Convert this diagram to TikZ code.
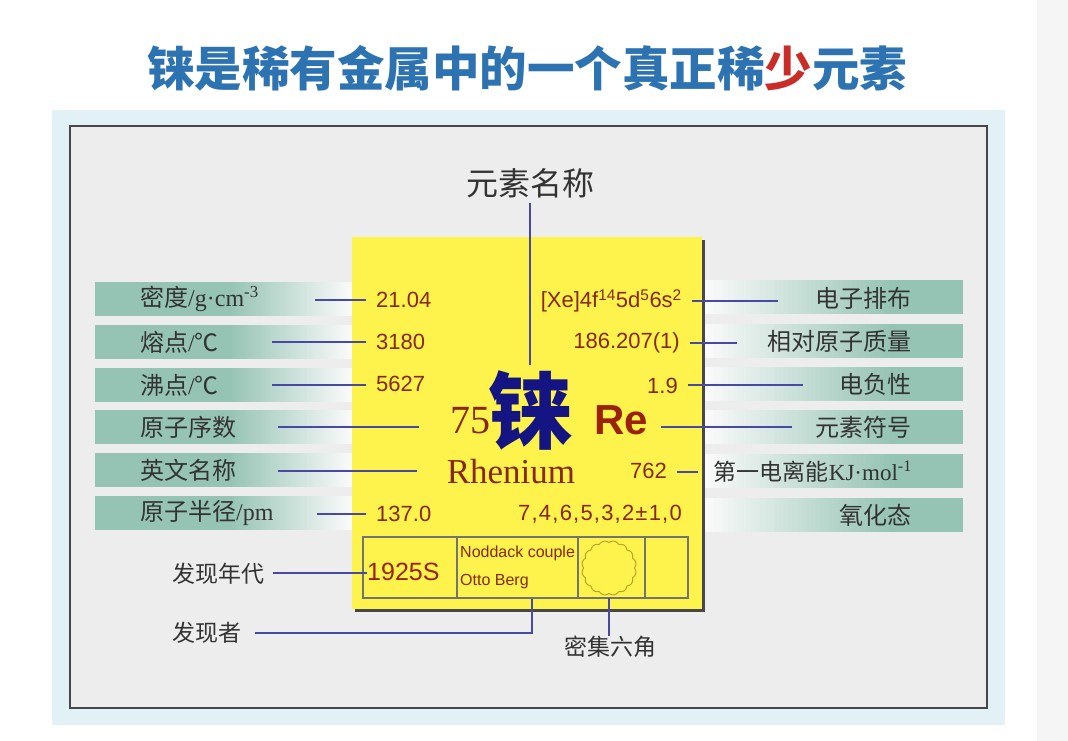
\documentclass[tikz,border=0pt]{standalone}
\usepackage{fontspec}
\usepackage{xcolor}
\usepackage{tikz}
\usetikzlibrary{positioning,calc}
\newfontfamily\cjk{Noto Sans CJK SC}
\newfontfamily\arial{Liberation Sans}
\newfontfamily\romain{Liberation Serif}
\definecolor{bleutitre}{RGB}{45,115,178}
\definecolor{rougetitre}{RGB}{200,45,40}
\definecolor{fondbleu}{RGB}{226,241,246}
\definecolor{fondgris}{RGB}{237,237,238}
\definecolor{cadre}{RGB}{70,70,75}
\definecolor{jaune}{RGB}{254,243,76}
\definecolor{vert}{RGB}{150,196,180}
\definecolor{trait}{RGB}{72,72,165}
\definecolor{brun}{RGB}{135,40,10}
\definecolor{marine}{RGB}{20,20,130}
\definecolor{ocre}{RGB}{190,160,40}
\colorlet{blanc}{fondgris!30!white}
\tikzset{
	lien/.style={draw=trait,line width=2.4pt},
	etiq/.style={font=\cjk\fontsize{24}{26}\selectfont,text=black!80,inner sep=0pt},
	valeur/.style={font=\arial\fontsize{22}{24}\selectfont,text=brun,inner xsep=10pt,inner ysep=0pt}
}

\begin{document}
\begin{tikzpicture}[x=1pt,y=-1pt]
	\useasboundingbox (0,0) rectangle (1068,741);
	
	%Fonds
	\fill[white] (0,0) rectangle (1068,741);
	\fill[black!4] (1037,0) rectangle (1068,741);
	\fill[fondbleu] (52,110) rectangle (1005,725);
	\filldraw[fill=fondgris,draw=cadre,line width=2.5pt] (70,126) rectangle (987,708);
	
	%Titre
	\node[font=\cjk\bfseries\fontsize{47.5}{50}\selectfont,text=bleutitre] (titre) at (527,68) {铼是稀有金属中的一个真正稀\textcolor{rougetitre}{少}元素};
	
	%Bandes vertes (degrade par petits rectangles)
	\foreach \y in {299,342,385,427,470,513}{
		\fill[vert] (95,\y-17) rectangle (230,\y+17);
		\foreach \i [evaluate=\i as \p using 100-\i*2.5] in {0,...,40}{
			\fill[vert!\p!blanc] (229+3*\i,\y-17) rectangle (232.5+3*\i,\y+17);
		}
	}
	\foreach \y in {297,341,384,427,471,515}{
		\foreach \i [evaluate=\i as \p using \i*2.5] in {0,...,40}{
			\fill[vert!\p!blanc] (705+4.6*\i,\y-17) rectangle (710+4.6*\i,\y+17);
		}
		\fill[vert] (889,\y-17) rectangle (963,\y+17);
	}
	
	%Carte jaune
	\fill[cadre] (355,240) rectangle (705,612);
	\fill[jaune] (352,237) rectangle (702,609);
	\draw[black!55,line width=1.3pt] (363,537) rectangle (688,598);
	\foreach \x in {457,578,645}{
		\draw[black!55,line width=1.3pt] (\x,537) -- (\x,598);
	}
	\draw[ocre,line width=1pt] plot[domain=0:360,samples=361] ({609+(25.5+1.8*abs(sin(8*\x)))*cos(\x)},{568+(25.5+1.8*abs(sin(8*\x)))*sin(\x)});
	
	%Etiquettes gauche
	\node[etiq,anchor=west] (g1) at (140,299) {密度{\romain/g·cm\textsuperscript{-3}}};
	\node[etiq,anchor=west] (g2) at (140,342) {熔点{\romain/}℃};
	\node[etiq,anchor=west] (g3) at (140,385) {沸点{\romain/}℃};
	\node[etiq,anchor=west] (g4) at (140,427) {原子序数};
	\node[etiq,anchor=west] (g5) at (140,470) {英文名称};
	\node[etiq,anchor=west] (g6) at (140,513) {原子半径{\romain/pm}};
	
	%Etiquettes droite
	\node[etiq,anchor=east] (d1) at (912,298) {电子排布};
	\node[etiq,anchor=east] (d2) at (912,341) {相对原子质量};
	\node[etiq,anchor=east] (d3) at (912,384) {电负性};
	\node[etiq,anchor=east] (d4) at (912,427) {元素符号};
	\node[etiq,font=\cjk\fontsize{23}{25}\selectfont,anchor=east] (d5) at (912,472) {第一电离能{\romain KJ·mol\textsuperscript{-1}}};
	\node[etiq,anchor=east] (d6) at (912,515) {氧化态};
	
	%Etiquettes haut et bas
	\node[etiq,font=\cjk\fontsize{32}{34}\selectfont] (nom) at (530,183) {元素名称};
	\node[etiq,font=\cjk\fontsize{23}{25}\selectfont,anchor=west] (an) at (172,574) {发现年代};
	\node[etiq,font=\cjk\fontsize{23}{25}\selectfont,anchor=west] (decouv) at (172,633) {发现者};
	\node[etiq,font=\cjk\fontsize{23}{25}\selectfont] (hexa) at (610,647) {密集六角};
	
	%Valeurs
	\node[valeur,anchor=west] (v1) at (366,300) {21.04};
	\node[valeur,anchor=west] (v2) at (366,342) {3180};
	\node[valeur,anchor=west] (v3) at (366,384) {5627};
	\node[valeur,anchor=west] (v6) at (366,514) {137.0};
	\node[valeur,anchor=east] (w1) at (692,301) {[Xe]4f\textsuperscript{14}5d\textsuperscript{5}6s\textsuperscript{2}};
	\node[valeur,anchor=east] (w2) at (690,343) {186.207(1)};
	\node[valeur,anchor=east] (w3) at (688,386) {1.9};
	\node[valeur,anchor=east] (w5) at (677,471) {762};
	\node[valeur,anchor=east] (w6) at (692,514) {\addfontfeature{LetterSpace=5.5}7,4,6,5,3,2±1,0};
	
	%Symbole
	\node[font=\romain\fontsize{40}{40}\selectfont,text=brun,anchor=east,inner sep=0pt] (numero) at (491,421) {75};
	\node[font=\cjk\bfseries\fontsize{84}{84}\selectfont,text=marine,inner sep=0pt] (symbole) at (530,410) {铼};
	\node[font=\arial\bfseries\fontsize{42}{42}\selectfont,text=brun!85!red,inner sep=0pt] (re) at (621,420) {Re};
	\node[font=\romain\fontsize{35}{35}\selectfont,text=brun,anchor=base,inner sep=0pt] (nomen) at (511,483) {Rhenium};
	
	%Decouverte
	\node[font=\arial\fontsize{25}{25}\selectfont,text=brun!85!red,anchor=west,inner sep=0pt] (annee) at (367,572) {1925S};
	\node[font=\arial\fontsize{16}{16}\selectfont,text=brun,anchor=west,inner sep=0pt] (noddack) at (460,553) {Noddack couple};
	\node[font=\arial\fontsize{16}{16}\selectfont,text=brun,anchor=west,inner sep=0pt] (berg) at (460,582) {Otto Berg};
	
	%Points des traits
	\coordinate (a1) at (315,300);
	\coordinate (a2) at (272,342);
	\coordinate (a3) at (272,385);
	\coordinate (a4) at (278,427);
	\coordinate (a5) at (278,471);
	\coordinate (a6) at (317,514);
	\coordinate (a7) at (273,573);
	\coordinate (b1) at (778,301);
	\coordinate (b2) at (737,343);
	\coordinate (b3) at (803,385);
	\coordinate (b4) at (792,427);
	\coordinate (b5) at (698,472);
	\coordinate (coinberg) at (532,599);
	\coordinate (circbas) at (609,598);
	
	%Traits
	\draw[lien] (a1) -- (a1 -| v1.west);
	\draw[lien] (a2) -- (a2 -| v2.west);
	\draw[lien] (a3) -- (a3 -| v3.west);
	\draw[lien,shorten >=32pt] (a4) -- (a4 -| numero.west);
	\draw[lien,shorten >=30pt] (a5) -- (a5 -| nomen.west);
	\draw[lien] (a6) -- (a6 -| v6.west);
	\draw[lien] (a7) -- (a7 -| annee.west);
	\draw[lien] (b1 -| w1.east) -- (b1);
	\draw[lien] (b2 -| w2.east) -- (b2);
	\draw[lien] (b3 -| w3.east) -- (b3);
	\draw[lien,shorten <=13pt] (b4 -| re.east) -- (b4);
	\draw[lien] (b5 -| w5.east) -- (b5);
	\draw[lien,line width=2pt,shorten <=5pt,shorten >=5pt] (nom) -- (symbole);
	\draw[lien] ([xshift=14pt]decouv.east) -| (coinberg);
	\draw[lien] (circbas) -- (circbas |- hexa.north);
\end{tikzpicture}
\end{document}
